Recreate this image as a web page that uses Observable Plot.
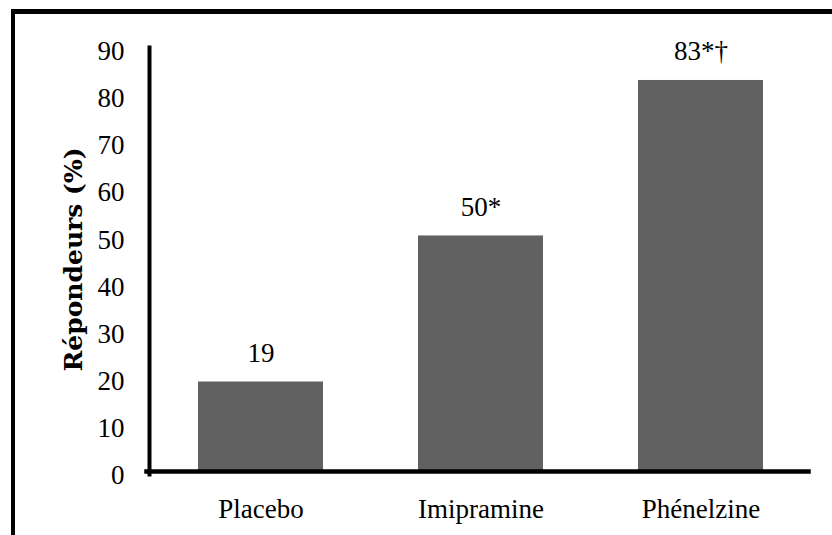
<!DOCTYPE html>
<html>
<head>
<meta charset="utf-8">
<script src="https://cdn.jsdelivr.net/npm/d3@7"></script>
<script src="https://cdn.jsdelivr.net/npm/@observablehq/plot@0.6"></script>
<style>
  html, body { margin: 0; padding: 0; background: #fff; overflow: hidden; }
  #wrap { position: relative; width: 832px; height: 535px; overflow: hidden; }
  #frame { position: absolute; left: 11px; top: 9px; width: 900px; height: 600px;
           border-left: 4px solid #000; border-top: 5px solid #000; }
  #chart { position: absolute; left: 0; top: 0; }
</style>
</head>
<body>
<div id="wrap">
  <div id="frame"></div>
  <div id="chart"></div>
</div>
<script>
const categories = ["Placebo", "Imipramine", "Phénelzine"];
const values = [19, 50, 83];
const valueLabels = ["19", "50*", "83*†"];
const yTicks = [0, 10, 20, 30, 40, 50, 60, 70, 80, 90];
const yTitle = "Répondeurs (%)";

const data = categories.map((c, i) => ({category: c, value: values[i], label: valueLabels[i]}));
const font = "'Liberation Serif', 'Times New Roman', serif";

const chart = Plot.plot({
  width: 832,
  height: 535,
  marginLeft: 149,
  marginRight: 21,
  marginTop: 47,
  marginBottom: 64,
  style: {fontFamily: font, fontSize: "27px", color: "#000", background: "transparent", overflow: "visible"},
  x: {domain: categories, paddingInner: 0.434, paddingOuter: 0.217, label: null},
  y: {domain: [0, 90], label: null},
  marks: [
    Plot.barY(data, {x: "category", y: "value", fill: "#616161"}),
    Plot.text(data, {x: "category", y: "value", text: "label", lineAnchor: "bottom", dy: -20, fontSize: 27, fill: "#000"}),
    Plot.axisY({ticks: yTicks, tickSize: 0, tickPadding: 25, dy: 4, fontSize: 27, label: null}),
    Plot.axisX({tickSize: 0, tickPadding: 27, fontSize: 27, label: null}),
    Plot.frame({anchor: "left", stroke: "#000", strokeWidth: 4, insetBottom: -3}),
    Plot.frame({anchor: "bottom", stroke: "#000", strokeWidth: 4.5, insetLeft: -3, insetRight: 3}),
    Plot.text([yTitle], {frameAnchor: "left", textAnchor: "middle", text: d => d, rotate: -90, dx: -76,
      fontFamily: "'DejaVu Serif', serif", fontWeight: "bold", fontSize: 25, fill: "#000"})
  ]
});
document.getElementById("chart").appendChild(chart);
</script>
</body>
</html>
